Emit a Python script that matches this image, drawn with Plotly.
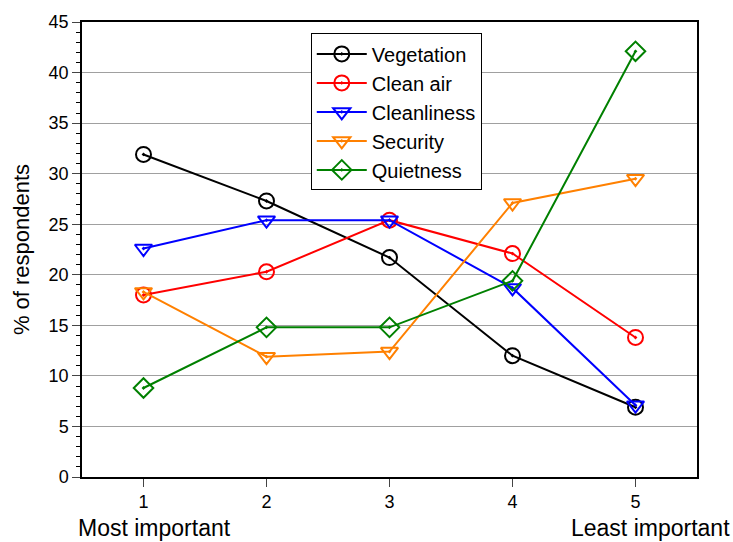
import plotly.graph_objects as go

ranks = [1, 2, 3, 4, 5]
vegetation = [31.9, 27.3, 21.7, 12.0, 6.9]
clean_air = [18.0, 20.3, 25.4, 22.1, 13.8]
cleanliness = [22.6, 25.4, 25.4, 18.7, 7.1]
security = [18.3, 11.9, 12.4, 27.1, 29.5]
quietness = [8.8, 14.8, 14.8, 19.4, 42.1]

series = [
    ("Vegetation", vegetation, "black", "circle-open-dot"),
    ("Clean air", clean_air, "red", "circle-open-dot"),
    ("Cleanliness", cleanliness, "blue", "triangle-down-open-dot"),
    ("Security", security, "#ff8000", "triangle-down-open-dot"),
    ("Quietness", quietness, "green", "diamond-open-dot"),
]

fig = go.Figure()
for name, vals, color, sym in series:
    fig.add_trace(go.Scatter(
        x=ranks, y=vals, name=name, mode="lines+markers",
        line=dict(color=color, width=2),
        marker=dict(symbol=sym, size=15, color=color, line=dict(width=2, color=color)),
    ))

fig.update_layout(
    width=733, height=542,
    margin=dict(l=82, r=36, t=20, b=65),
    plot_bgcolor="white", paper_bgcolor="white",
    font=dict(family="Liberation Sans, Arial", size=18, color="black"),
    legend=dict(
        x=0.372, y=0.975, xanchor="left", yanchor="top",
        bordercolor="black", borderwidth=1, bgcolor="white",
        font=dict(size=20), tracegroupgap=0, itemwidth=50,
    ),
    showlegend=True,
)
fig.update_xaxes(
    range=[0.5, 5.5], tickvals=ranks, ticks="outside", ticklen=8,
    showline=True, linecolor="black", linewidth=1.5, mirror=True,
    showgrid=False, zeroline=False, tickfont=dict(size=18),
)
fig.update_yaxes(
    range=[0, 45], dtick=5, ticks="outside", ticklen=8,
    minor=dict(dtick=1, ticks="outside", ticklen=4, tickcolor="black", showgrid=False),
    showline=True, linecolor="black", linewidth=1.5, mirror=True,
    showgrid=True, gridcolor="#a0a0a0", gridwidth=1, zeroline=False,
    title=dict(text="% of respondents", font=dict(size=22), standoff=13),
    tickfont=dict(size=18),
)
fig.add_annotation(text="Most important", x=0, y=-0.112, xref="paper", yref="paper",
                   xshift=-6, xanchor="left", yanchor="middle", showarrow=False,
                   font=dict(size=23))
fig.add_annotation(text="Least important", x=1, y=-0.112, xref="paper", yref="paper",
                   xshift=35, xanchor="right", yanchor="middle", showarrow=False,
                   font=dict(size=23))

fig.write_html("out.html", config={"displayModeBar": False},
               post_script="document.body.style.margin='0';")
